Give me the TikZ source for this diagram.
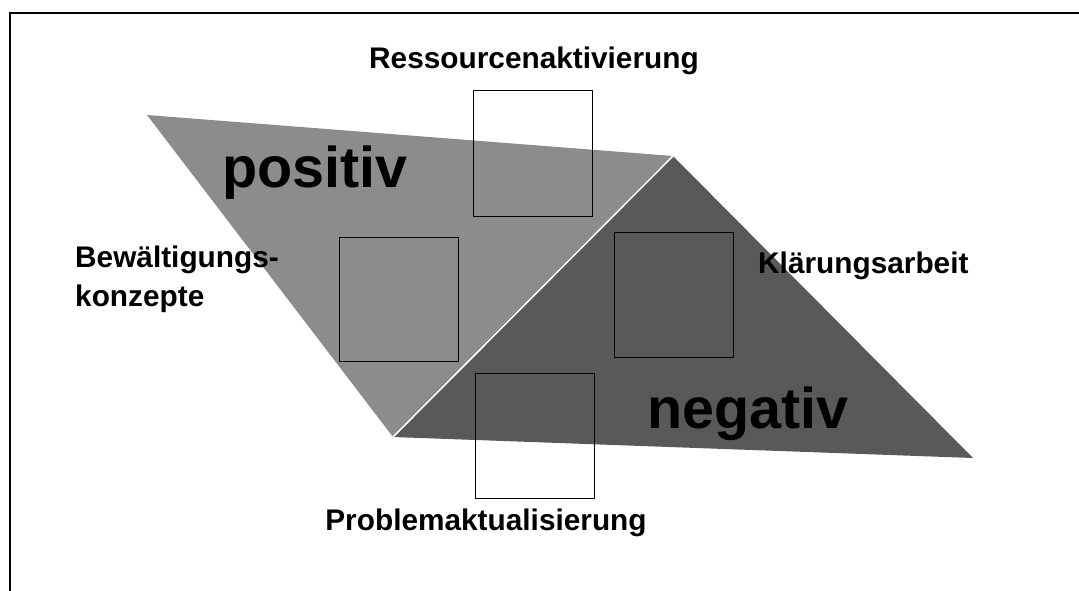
\documentclass[tikz,border=0pt]{standalone}
\usepackage{fontspec}
\setmainfont{Liberation Sans}
\definecolor{lightgr}{HTML}{8C8C8C}
\definecolor{darkgr}{HTML}{595959}
\begin{document}
\begin{tikzpicture}[x=1pt,y=-1pt,
  frm/.style={line width=2.2pt,draw=black},
  sqbox/.style={draw=black,line width=1pt,minimum width=119pt,minimum height=125pt,inner sep=0pt,fill=none},
  lbl/.style={font=\bfseries\fontsize{29.8}{39}\selectfont,inner sep=0pt,align=left},
  big/.style={font=\bfseries\fontsize{57.5}{60}\selectfont,inner sep=0pt}]
\useasboundingbox (0,0) rectangle (1079,590);
\begin{scope}
\clip (0,0) rectangle (1079,590);
\draw[frm] (10,13) rectangle (1130,640);
\end{scope}
% triangles
\coordinate (p1) at (147,115);
\coordinate (p2) at (673,156);
\coordinate (p3) at (393,437);
\coordinate (p4) at (973,458);
\fill[lightgr] (p1) -- (p2) -- (p3) -- cycle;
\fill[darkgr] (p2) -- (p4) -- (p3) -- cycle;
\draw[white,line width=1.5pt] (p3) -- (p2);
% boxes
\node[sqbox,minimum height=126pt] (b1) at (532.5,153) {};
\node[sqbox,minimum height=124pt] (b2) at (398.5,299) {};
\node[sqbox] (b3) at (673.5,294.5) {};
\node[sqbox] (b4) at (534.5,435.5) {};
% labels
\node[lbl,anchor=base] (t1) at (534,68) {Ressourcenaktivierung};
\node[lbl,anchor=base west] (t2) at (75,267) {Bewältigungs-};
\node[lbl,anchor=base west] (t2b) at (75,306) {konzepte};
\node[lbl,anchor=base west] (t3) at (758,273) {Klärungsarbeit};
\node[lbl,anchor=base] (t4) at (486,530) {Problemaktualisierung};
\node[big,anchor=base west] (pos) at (222,187) {positiv};
\node[big,anchor=base west] (neg) at (647,428) {negativ};
\end{tikzpicture}
\end{document}
